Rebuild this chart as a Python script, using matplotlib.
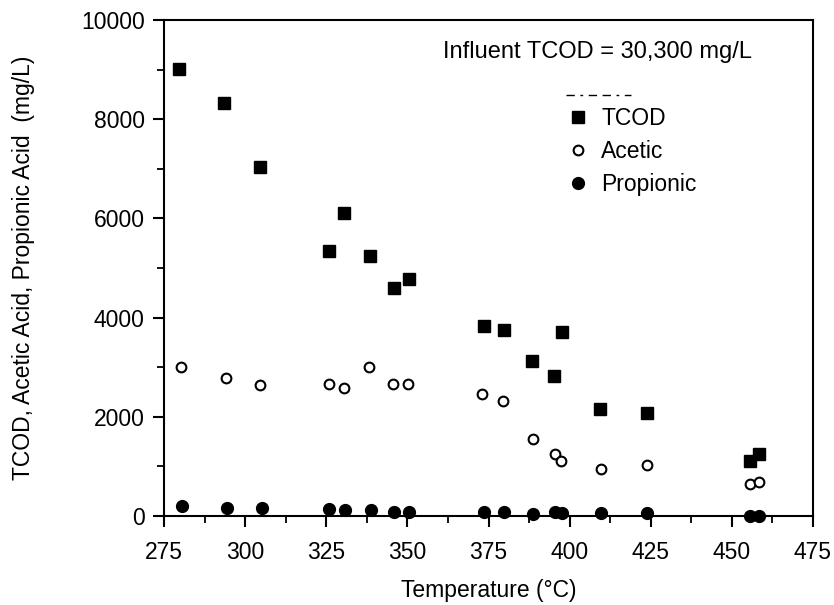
import matplotlib
matplotlib.use("Agg")
import matplotlib.pyplot as plt
from matplotlib.lines import Line2D
from matplotlib.ticker import MultipleLocator

plt.rcParams['font.family'] = ['Liberation Sans', 'DejaVu Sans']

# Data
T_tcod = [279.5, 293.5, 304.5, 326.0, 330.5, 338.5, 346.0, 350.5, 373.7, 379.8,
          388.5, 395.3, 397.7, 409.5, 423.8, 455.5, 458.3]
tcod = [9010, 8330, 7040, 5340, 6100, 5250, 4600, 4780, 3830, 3740,
        3135, 2830, 3710, 2165, 2085, 1115, 1240]

T_acetic = [280.1, 294.1, 304.7, 325.8, 330.4, 338.3, 345.7, 350.3, 373.1, 379.4,
            388.7, 395.4, 397.4, 409.7, 423.9, 455.5, 458.5]
acetic = [3000, 2780, 2650, 2660, 2575, 3000, 2655, 2660, 2450, 2320,
          1545, 1240, 1115, 950, 1030, 650, 690]

T_prop = [280.6, 294.5, 305.2, 326.0, 330.8, 338.8, 346.0, 350.5, 373.7, 379.8,
          388.7, 395.6, 397.7, 409.8, 423.9, 455.5, 458.5]
prop = [210, 170, 170, 135, 125, 125, 90, 90, 90, 90,
        40, 90, 55, 55, 55, 10, 10]

xticks = [275, 300, 325, 350, 375, 400, 425, 450, 475]
yticks = [0, 2000, 4000, 6000, 8000, 10000]

fig = plt.figure(figsize=(8.34, 6.05), dpi=100)
ax = fig.add_axes([164/834, 89/605, 649/834, 496/605])

ax.plot(T_tcod, tcod, ls='none', marker='s', ms=8, color='black', clip_on=False, zorder=3)
ax.plot(T_acetic, acetic, ls='none', marker='o', ms=7, mfc='white', mec='black',
        mew=1.5, clip_on=False, zorder=3)
ax.plot(T_prop, prop, ls='none', marker='o', ms=8.5, color='black', clip_on=False, zorder=3)

ax.set_xlim(275, 475)
ax.set_ylim(0, 10000)
ax.set_xticks(xticks)
ax.set_yticks(yticks)
ax.set_xticklabels([str(v) for v in xticks])
ax.set_yticklabels([str(v) for v in yticks])
ax.xaxis.set_minor_locator(MultipleLocator(12.5))
ax.yaxis.set_minor_locator(MultipleLocator(1000))
ax.tick_params(axis='both', which='major', direction='out', length=8, width=1.5,
               labelsize=16.5, colors='black')
ax.tick_params(axis='both', which='minor', direction='out', length=5, width=1.3)
ax.tick_params(axis='x', pad=10)
ax.tick_params(axis='y', pad=6)
for s in ax.spines.values():
    s.set_linewidth(1.5)

ax.set_xlabel('Temperature (°C)', fontsize=16.5, labelpad=11)
ax.set_ylabel('TCOD, Acetic Acid, Propionic Acid  (mg/L)', fontsize=16.5, labelpad=33)

ax.text(0.43, 0.935, 'Influent TCOD = 30,300 mg/L', transform=ax.transAxes,
        fontsize=17, va='center', ha='left')
ax.add_line(Line2D([0.62, 0.72], [0.848, 0.848], transform=ax.transAxes,
                   color='black', lw=1.0, dashes=(6, 4, 2, 4, 6, 4)))

handles = [
    Line2D([], [], ls='none', marker='s', ms=8, color='black'),
    Line2D([], [], ls='none', marker='o', ms=7, mfc='white', mec='black', mew=1.5),
    Line2D([], [], ls='none', marker='o', ms=8.5, color='black'),
]
ax.legend(handles, ['TCOD', 'Acetic', 'Propionic'], loc='upper left',
          bbox_to_anchor=(0.621, 0.825), frameon=False, fontsize=16.5,
          handlelength=1.0, handletextpad=0.5, labelspacing=0.45,
          borderpad=0, borderaxespad=0)

fig.savefig('out.png', dpi=100)
